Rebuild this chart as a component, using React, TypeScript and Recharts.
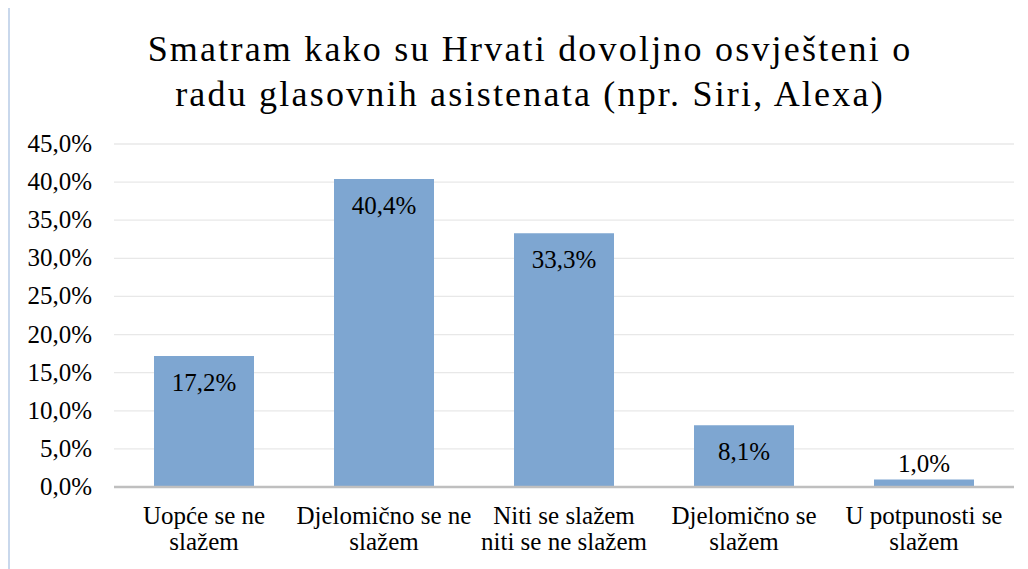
import { Bar, BarChart, CartesianGrid, LabelList, XAxis, YAxis } from "recharts";

const categories = [
  ["Uopće se ne", "slažem"],
  ["Djelomično se ne", "slažem"],
  ["Niti se slažem", "niti se ne slažem"],
  ["Djelomično se", "slažem"],
  ["U potpunosti se", "slažem"],
];
const values = [17.2, 40.4, 33.3, 8.1, 1.0];
const yTicks = [0, 5, 10, 15, 20, 25, 30, 35, 40, 45];
const titleLines = [
  "Smatram kako su Hrvati dovoljno osvješteni o",
  "radu glasovnih asistenata (npr. Siri, Alexa)",
];

const data = categories.map((c, i) => ({ name: c.join(" "), value: values[i] }));

const font = "Liberation Serif";
const pct = (v: number) => `${v.toFixed(1).replace(".", ",")}%`;

// two-line category labels under the axis
const CategoryTick = (props: any) => {
  const { x, y, index } = props;
  const lines = categories[index] ?? [];
  return (
    <g>
      {lines.map((line, i) => (
        <text key={i} x={x} y={y + 29 + i * 26} textAnchor="middle" fontFamily={font} fontSize={25} fill="#000">
          {line}
        </text>
      ))}
    </g>
  );
};

const ValueTick = (props: any) => {
  const { x, y, payload } = props;
  return (
    <text x={x} y={y + 8} textAnchor="end" fontFamily={font} fontSize={25} fill="#000">
      {pct(Number(payload.value))}
    </text>
  );
};

// inside end like Excel, falls back to above the bar when it is too short
const ValueLabel = (props: any) => {
  const { x, y, width, height, value } = props;
  const inside = height > 40;
  return (
    <text
      x={x + width / 2}
      y={inside ? y + 35 : y - 7}
      textAnchor="middle"
      fontFamily={font}
      fontSize={25}
      fill="#000"
    >
      {pct(Number(value))}
    </text>
  );
};

export default function App() {
  return (
    <div style={{ position: "relative", width: 1020, height: 561, marginTop: -1, borderTop: "1px solid #eeeef6", borderLeft: "2px solid #c9d8ec" }}>
      <div
        style={{
          position: "absolute",
          left: -2,
          top: 19,
          width: 1044,
          textAlign: "center",
          fontFamily: '"Liberation Serif", "Times New Roman", serif',
          fontSize: 36,
          lineHeight: "45px",
          letterSpacing: 2.2,
          color: "#000",
        }}
      >
        {titleLines.map((t) => (
          <div key={t}>{t}</div>
        ))}
      </div>
      <BarChart
        width={1018}
        height={560}
        data={data}
        margin={{ top: 136, right: 14, left: 0, bottom: 10 }}
        barSize={100}
      >
        <CartesianGrid vertical={false} stroke="#e8e8e8" strokeWidth={1.3} />
        <XAxis
          dataKey="name"
          tick={<CategoryTick />}
          tickLine={false}
          axisLine={{ stroke: "#bfbfbf", strokeWidth: 2.3 }}
          height={71}
          interval={0}
        />
        <YAxis
          domain={[0, 45]}
          ticks={yTicks}
          tickLine={false}
          axisLine={false}
          tickSize={0}
          tickMargin={22}
          width={104}
          interval={0}
          tick={<ValueTick />}
        />
        <Bar dataKey="value" fill="#7ea6d1" isAnimationActive={false}>
          <LabelList dataKey="value" content={<ValueLabel />} />
        </Bar>
      </BarChart>
    </div>
  );
}
